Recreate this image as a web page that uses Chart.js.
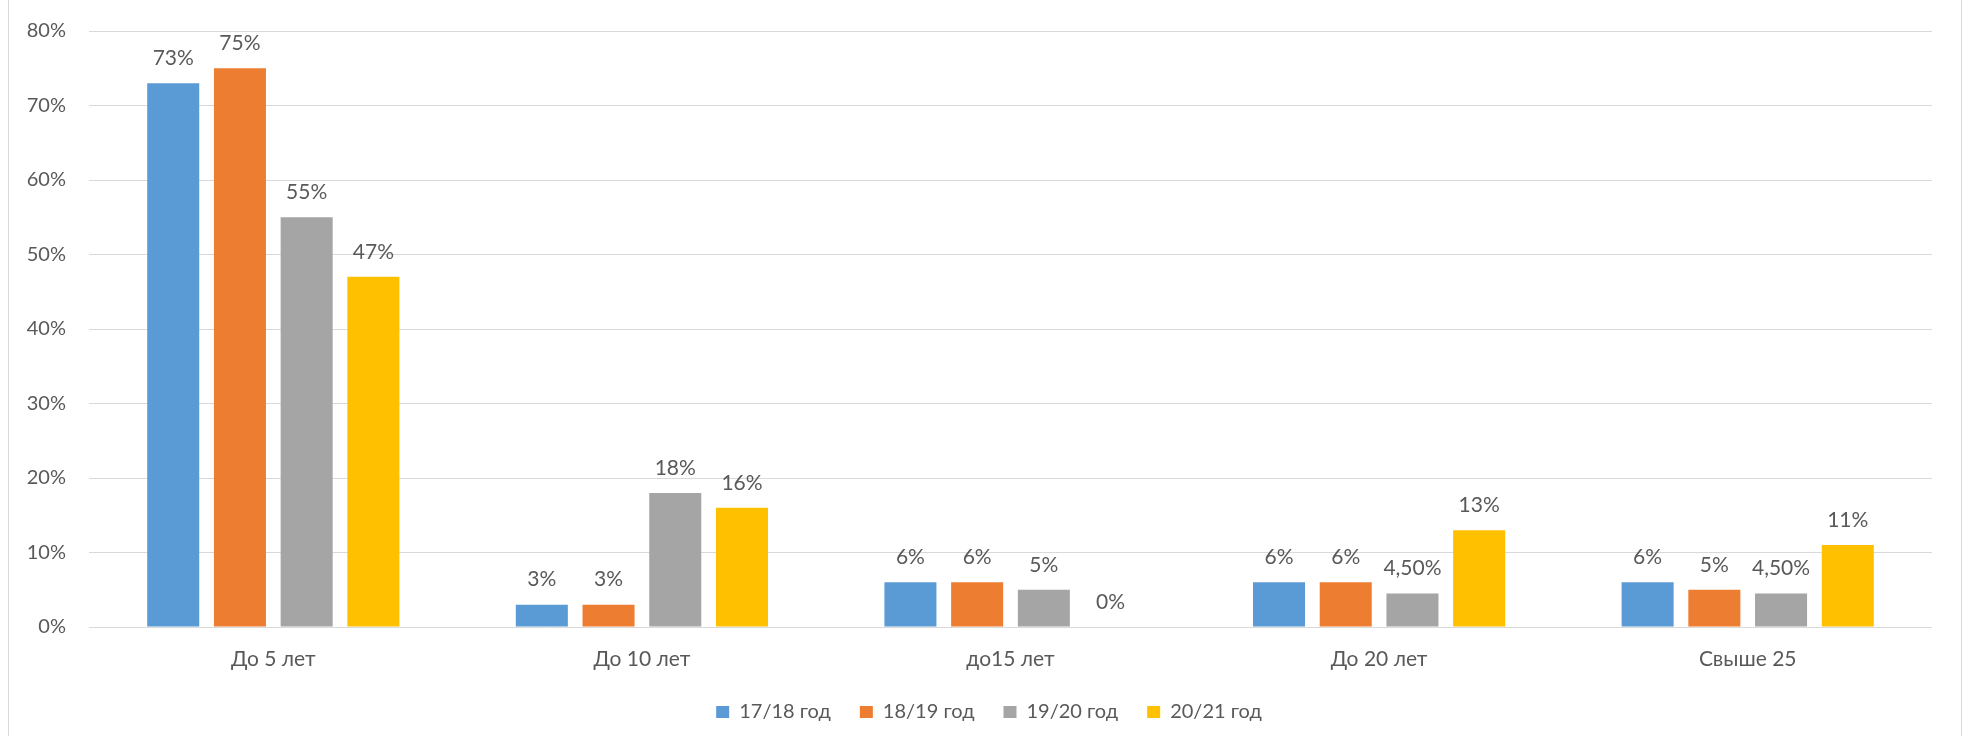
<!DOCTYPE html>
<html><head><meta charset="utf-8">
<script src="https://cdn.jsdelivr.net/npm/chart.js@4/dist/chart.umd.min.js"></script>
<style>html,body{margin:0;padding:0;background:#fff}#wrap{width:1968px;height:736px;position:relative}</style>
</head><body><div id="wrap"><canvas id="c" width="1968" height="736"></canvas></div>
<script>
const categories = ["До 5 лет", "До 10 лет", "до15 лет", "До 20 лет", "Свыше 25"];
const seriesNames = ["17/18 год", "18/19 год", "19/20 год", "20/21 год"];
const s1718 = [73, 3, 6, 6, 6];
const s1819 = [75, 3, 6, 6, 5];
const s1920 = [55, 18, 5, 4.5, 4.5];
const s2021 = [47, 16, 0, 13, 11];
const colors = ["#5B9BD5", "#ED7D31", "#A5A5A5", "#FFC000"];
const yTicks = [0, 10, 20, 30, 40, 50, 60, 70, 80];

const FONT = "Lato, 'Open Sans', sans-serif";
const TXT = "#595959";
function fmt(v){ return Number.isInteger(v) ? v + "%" : v.toFixed(2).replace(".", ",") + "%"; }

const borderPlugin = {
  id: "border",
  afterLayout(chart){
    const lg = chart.legend;
    if (lg) { lg.left += 23; lg.right += 23; }
  },
  beforeDraw(chart){
    const ctx = chart.ctx;
    ctx.save();
    ctx.strokeStyle = "#d9d9d9"; ctx.lineWidth = 1;
    ctx.beginPath();
    ctx.moveTo(8.5, 0); ctx.lineTo(8.5, 736);
    ctx.moveTo(1961.5, 0); ctx.lineTo(1961.5, 736);
    ctx.stroke();
    ctx.restore();
  }
};
const labelPlugin = {
  id: "vlabels",
  afterDatasetsDraw(chart){
    const ctx = chart.ctx;
    ctx.save();
    ctx.font = "21px " + FONT;
    ctx.fillStyle = TXT;
    ctx.textAlign = "center";
    ctx.textBaseline = "middle";
    chart.data.datasets.forEach((ds, i) => {
      const meta = chart.getDatasetMeta(i);
      meta.data.forEach((bar, j) => {
        ctx.fillText(fmt(ds.data[j]), bar.x, bar.y - 25);
      });
    });
    ctx.restore();
  }
};

const data = {
  labels: categories,
  datasets: [s1718, s1819, s1920, s2021].map((d, i) => ({
    label: seriesNames[i], data: d, backgroundColor: colors[i],
    borderWidth: 0, categoryPercentage: 0.724, barPercentage: 0.78
  }))
};

new Chart(document.getElementById("c"), {
  type: "bar",
  data,
  options: {
    responsive: false, animation: false,
    layout: { padding: { left: 0, right: 36, top: 31, bottom: 13 } },
    plugins: {
      tooltip: { enabled: false },
      legend: {
        position: "bottom",
        maxHeight: 50,
        labels: { boxWidth: 13, boxHeight: 12, padding: 29, color: TXT, font: { family: FONT, size: 20 } }
      }
    },
    scales: {
      x: {
        afterFit(s){ s.height = 46; },
        grid: { display: false, drawTicks: false },
        border: { display: false },
        ticks: { color: TXT, font: { family: FONT, size: 21 }, padding: 20 }
      },
      y: {
        min: 0, max: 80,
        afterFit(s){ s.width = 89; },
        afterBuildTicks(s){ s.ticks = yTicks.map(v => ({ value: v })); },
        grid: { color: "#d9d9d9", lineWidth: 1, drawTicks: true, tickLength: 23, tickColor: "rgba(0,0,0,0)" },
        border: { display: false },
        ticks: { color: TXT, font: { family: FONT, size: 20 }, padding: 0, callback: v => v + "%" }
      }
    }
  },
  plugins: [borderPlugin, labelPlugin]
});
</script></body></html>
